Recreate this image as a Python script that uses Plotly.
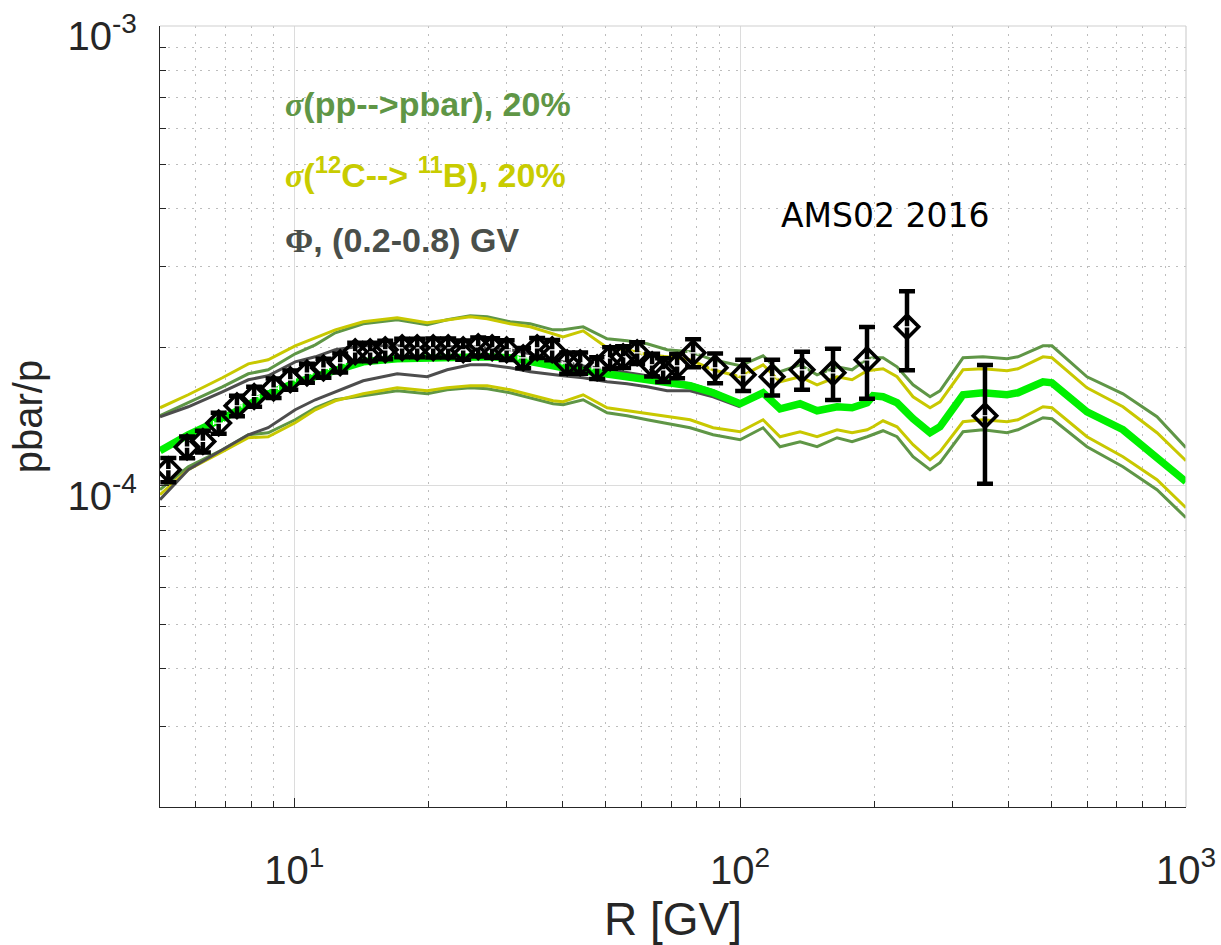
import numpy as np
import plotly.graph_objects as go

UNIT = 1e-4

# ---- model curves (pbar/p in units of 1e-4) on a rigidity grid [GV] ----
R_model = [5.0, 5.785, 6.90, 7.89, 8.74, 10.05, 11.15, 12.36, 14.28, 17.02,
           19.87, 22.03, 24.81, 27.09, 30.50, 33.82, 38.08, 40.10, 44.46, 50.33,
           55.80, 61.87, 68.60, 77.25, 86.99, 100.0, 112.6, 122.9, 136.3, 148.8,
           165.0, 178.3, 192.7, 198.7, 209.2, 224.9, 244.3, 266.7, 280.8, 316.2,
           350.6, 396.9, 419.9, 477.9, 500.6, 599.8, 722.3, 861.0, 1000.0]

central = [1.1915, 1.2908, 1.3985, 1.4925, 1.5849, 1.6746, 1.7257, 1.7872, 1.8602, 1.8883,
           1.8978, 1.8978, 1.9074, 1.9074, 1.8978, 1.8695, 1.8233, 1.8052, 1.7783, 1.7430,
           1.7170, 1.6999, 1.6662, 1.6496, 1.5928, 1.5075, 1.5928, 1.4702, 1.5075, 1.4556,
           1.4850, 1.4776, 1.5151, 1.5691, 1.5613, 1.5151, 1.3985, 1.3038, 1.3436, 1.5770,
           1.5928, 1.5770, 1.5928, 1.6830, 1.6746, 1.4483, 1.3236, 1.1562, 1.0202]

pp_upper = [1.4196, 1.5151, 1.6414, 1.7517, 1.7872, 1.9362, 2.0254, 2.1508, 2.2499, 2.2954,
            2.2387, 2.2954, 2.3418, 2.3302, 2.2726, 2.2499, 2.1833, 2.1833, 2.2164, 2.0872,
            2.0664, 2.0356, 1.9754, 1.9557, 1.8789, 1.8233, 1.9169, 1.7694, 1.8325, 1.7430,
            1.8143, 1.7872, 1.8883, 1.8978, 1.8978, 1.8143, 1.6579, 1.5613, 1.6089, 1.8978,
            1.9074, 1.8883, 1.9074, 2.0153, 2.0153, 1.7257, 1.5849, 1.4126, 1.2095]

pp_lower = [0.9802, 1.0998, 1.1974, 1.2908, 1.3038, 1.3915, 1.4776, 1.5380, 1.5691, 1.6089,
            1.5849, 1.6170, 1.6332, 1.6251, 1.5928, 1.5535, 1.5075, 1.5000, 1.5380, 1.4411,
            1.4196, 1.3915, 1.3639, 1.3369, 1.2908, 1.2590, 1.3369, 1.2156, 1.2464, 1.2156,
            1.2716, 1.2464, 1.2780, 1.2908, 1.3170, 1.2780, 1.1562, 1.0834, 1.1220, 1.3104,
            1.3236, 1.3038, 1.3236, 1.4055, 1.3985, 1.2156, 1.0998, 0.9802, 0.8520]

cb_upper = [1.4776, 1.5770, 1.7170, 1.8416, 1.8789, 2.0153, 2.0977, 2.1833, 2.2726, 2.3185,
            2.2612, 2.2954, 2.3302, 2.3070, 2.2499, 2.2164, 2.1400, 2.1082, 2.1724, 1.9952,
            1.9754, 1.9265, 1.9074, 1.8789, 1.7872, 1.7257, 1.8325, 1.6830, 1.7257, 1.6579,
            1.7257, 1.6999, 1.7783, 1.7872, 1.7962, 1.7257, 1.5613, 1.4776, 1.5227, 1.7872,
            1.7962, 1.7783, 1.7962, 1.9074, 1.8978, 1.6332, 1.4850, 1.3038, 1.1333]

cb_lower = [0.9560, 1.0834, 1.1855, 1.2716, 1.2780, 1.3707, 1.4629, 1.5303, 1.5849, 1.6332,
            1.6089, 1.6332, 1.6496, 1.6496, 1.6170, 1.5770, 1.5303, 1.5227, 1.5770, 1.4776,
            1.4556, 1.4339, 1.4126, 1.3915, 1.3369, 1.3104, 1.3915, 1.2780, 1.3104, 1.2780,
            1.3236, 1.3038, 1.3236, 1.3436, 1.3845, 1.3436, 1.2278, 1.1390, 1.1855, 1.3776,
            1.3915, 1.3776, 1.3915, 1.4850, 1.4776, 1.2780, 1.1562, 1.0305, 0.8957]

# solar modulation band (only visible up to ~100 GV)
R_phi = R_model[:26]
phi_upper = [1.4126, 1.4850, 1.6008, 1.6999, 1.7343, 1.8602, 1.9074, 1.9754, 2.0153, 2.0153,
             1.9953, 2.0053, 2.0053, 1.9953, 1.9754, 1.9362, 1.8789, 1.8602, 1.8233, 1.7872,
             1.7605, 1.7343, 1.6914, 1.6662, 1.6089, 1.5151]
phi_lower = [0.9323, 1.0834, 1.1974, 1.2908, 1.3369, 1.4629, 1.5380, 1.6008, 1.6914, 1.7517,
             1.7257, 1.7872, 1.8325, 1.8325, 1.8052, 1.7694, 1.7430, 1.7343, 1.7170, 1.6830,
             1.6662, 1.6414, 1.6089, 1.6089, 1.5613, 1.4850]

# ---- AMS-02 2016 data ----
R_data = [5.22, 5.75, 6.24, 6.77, 7.44, 8.13, 8.99, 9.80, 10.68, 11.63,
          12.68, 13.70, 14.80, 16.00, 17.46, 18.87, 20.50, 22.15, 23.93, 25.86,
          27.79, 29.95, 32.62, 35.06, 37.89, 40.94, 43.78, 47.79, 51.11, 54.66,
          58.76, 63.49, 67.20, 72.23, 78.45, 87.89, 101.6, 118.0, 137.7, 161.6,
          192.6, 236.8, 354.2]
pbar_p = [1.0834, 1.2138, 1.2483, 1.3687, 1.4925, 1.5636, 1.6308, 1.6999, 1.7579, 1.8025,
          1.8509, 1.9557, 1.9557, 1.9754, 1.9953, 1.9953, 1.9953, 1.9953, 1.9754, 2.0053,
          1.9953, 1.9754, 1.8980, 1.9953, 1.9754, 1.8509, 1.8509, 1.8052, 1.8980, 1.9074,
          1.9460, 1.8325, 1.7872, 1.8233, 1.9460, 1.8052, 1.7430, 1.7256, 1.7872, 1.7605,
          1.8791, 2.2164, 1.4196]
pbar_p_err = [0.066, 0.066, 0.068, 0.072, 0.076, 0.078, 0.080, 0.082, 0.084, 0.086,
              0.088, 0.090, 0.090, 0.092, 0.092, 0.093, 0.094, 0.095, 0.095, 0.096,
              0.097, 0.098, 0.096, 0.100, 0.100, 0.098, 0.099, 0.098, 0.102, 0.104,
              0.106, 0.105, 0.106, 0.110, 0.136, 0.135, 0.136, 0.154, 0.170, 0.225,
              0.334, 0.434, 0.410]

x_major = [10, 100, 1000]
x_major_text = ["10<sup>1</sup>", "10<sup>2</sup>", "10<sup>3</sup>"]
x_minor = [6, 7, 8, 9, 20, 30, 40, 50, 60, 70, 80, 90, 200, 300, 400, 500, 600, 700, 800, 900]
y_major = [1e-4, 1e-3]
y_major_text = ["10<sup>-4</sup>", "10<sup>-3</sup>"]
y_minor = [2e-5, 3e-5, 4e-5, 5e-5, 6e-5, 7e-5, 8e-5, 9e-5,
           2e-4, 3e-4, 4e-4, 5e-4, 6e-4, 7e-4, 8e-4, 9e-4]

OLIVE = "#5f9646"
YELLOW = "#c8c800"
GRAY = "#4d4d4d"
GREEN = "#00f000"


def scaled(vals):
    return [v * UNIT for v in vals]


fig = go.Figure()

for xs, ys, col, w in [
    (R_model, pp_upper, OLIVE, 3),
    (R_model, pp_lower, OLIVE, 3),
    (R_model, cb_upper, YELLOW, 3),
    (R_model, cb_lower, YELLOW, 3),
    (R_phi, phi_upper, GRAY, 3),
    (R_phi, phi_lower, GRAY, 3),
    (R_model, central, GREEN, 7.5),
]:
    fig.add_trace(go.Scatter(x=xs, y=scaled(ys), mode="lines",
                             line=dict(color=col, width=w), hoverinfo="skip"))

fig.add_trace(go.Scatter(
    x=R_data, y=scaled(pbar_p), mode="markers",
    marker=dict(symbol="diamond-open", size=18, color="black", line=dict(width=3.6, color="black")),
    error_y=dict(type="data", array=scaled(pbar_p_err), color="black", thickness=4.5, width=8),
    error_x=dict(type="percent", value=2.6, color="white", thickness=1.2, width=2),
))

axis_common = dict(
    type="log", ticks="inside", ticklen=9, tickwidth=1, tickcolor="#262626",
    showline=True, linecolor="#262626", linewidth=1.2, mirror=False,
    showgrid=True, gridcolor="#dcdcdc", gridwidth=1, zeroline=False,
    tickfont=dict(size=40, color="#262626"), automargin=False,
    ticklabeloverflow="allow",
)

minor_common = dict(tickmode="array", ticks="inside", ticklen=6,
                    tickcolor="#262626", showgrid=True, gridcolor="#bdbdbd",
                    griddash="2px,6px", gridwidth=1)

fig.update_xaxes(
    **axis_common, range=[np.log10(5), 3.0001], tickmode="array",
    tickvals=x_major, ticktext=x_major_text, ticklabelstandoff=28,
    title=dict(text="R [GV]", font=dict(size=46, color="#262626"), standoff=20),
    minor=dict(minor_common, tickvals=x_minor),
)
fig.update_yaxes(
    **axis_common, range=[np.log10(2e-5), -2.9999], tickmode="array",
    tickvals=y_major, ticktext=y_major_text, ticklabelstandoff=14,
    ticklabelshift=10,
    title=dict(text="pbar/p", font=dict(size=40, color="#262626"), standoff=12),
    minor=dict(minor_common, tickvals=y_minor),
)

fig.add_shape(type="line", xref="paper", yref="paper", x0=0, x1=1, y0=1, y1=1,
              line=dict(color="#d0d0d0", width=1.2))
fig.add_shape(type="line", xref="paper", yref="paper", x0=1, x1=1, y0=0, y1=1,
              line=dict(color="#d0d0d0", width=1.2))

serif = '<span style="font-family:Liberation Serif">'
ann_font = dict(family="Liberation Sans, Arial, sans-serif", size=34, weight="bold")
annotations = [
    (serif + "<i>σ</i></span>(pp--&gt;pbar), 20%", OLIVE, 0.90),
    (serif + "<i>σ</i></span>(<sup>12</sup>C--&gt; <sup>11</sup>B), 20%", "#c8cc00", 0.812),
    (serif + "Φ</span>, (0.2-0.8) GV", "#4a4f4a", 0.726),
]
for txt, col, yp in annotations:
    fig.add_annotation(text=txt, xref="paper", yref="paper", x=0.120, y=yp,
                       xanchor="left", yanchor="middle", showarrow=False,
                       font=dict(ann_font, color=col))

fig.add_annotation(text="AMS02 2016", xref="paper", yref="paper", x=0.603, y=0.758,
                   xanchor="left", yanchor="middle", showarrow=False,
                   font=dict(family="DejaVu Sans", size=33, color="black"))

fig.update_layout(
    width=1221, height=945,
    margin=dict(l=160, r=35, t=26, b=138),
    plot_bgcolor="white", paper_bgcolor="white",
    showlegend=False,
    font=dict(family="Liberation Sans, Arial, Helvetica, sans-serif", color="#262626"),
)

fig.write_html("out.html")
